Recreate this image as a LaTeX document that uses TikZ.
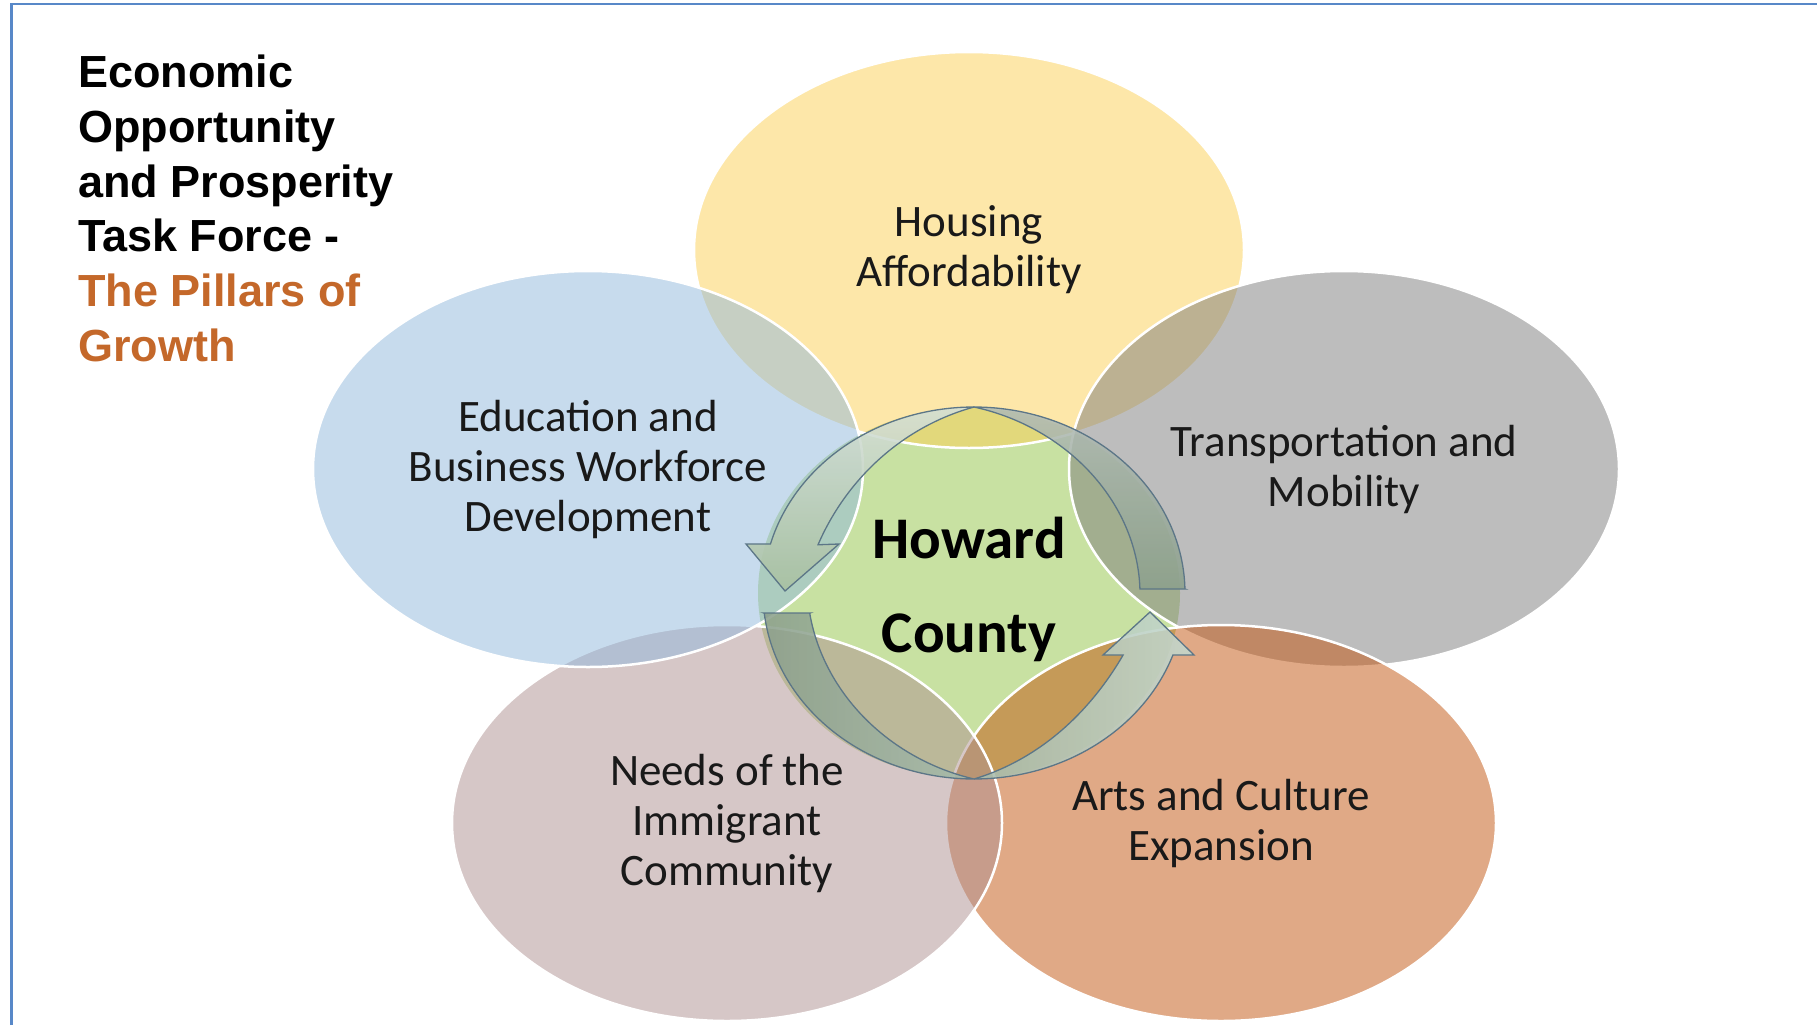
\documentclass[tikz,border=0pt]{standalone}
\usepackage{fontspec}
\setmainfont{Carlito}
\newfontfamily\titlefont{Liberation Sans}
\usetikzlibrary{shapes.geometric}

\definecolor{cYellow}{RGB}{253,209,85}
\definecolor{cBlue}{RGB}{145,185,221}
\definecolor{cGray}{RGB}{125,125,125}
\definecolor{cMauve}{RGB}{175,145,145}
\definecolor{cOrange}{RGB}{195,85,15}
\definecolor{cGreen}{RGB}{200,225,162}
\definecolor{cBorder}{RGB}{88,136,200}
\definecolor{cTitleOrange}{RGB}{196,104,42}
\definecolor{cArrowLine}{RGB}{92,118,135}
\definecolor{aLightTop}{RGB}{214,224,218}
\definecolor{aLightBot}{RGB}{168,192,160}
\definecolor{aDark}{RGB}{140,160,140}
\definecolor{aDarkTop}{RGB}{178,188,182}
\definecolor{aLightR}{RGB}{196,216,206}
\definecolor{cText}{RGB}{25,25,25}

\tikzset{
  pillar/.style={ellipse, minimum width=550pt, minimum height=396pt, inner sep=0pt,
    fill opacity=0.5, draw=white, line width=2.5pt, text=cText, text opacity=1,
    align=center, font=\fontsize{45}{50}\selectfont,
    execute at begin node={\rule{0pt}{43pt}}},
  hub/.style={ellipse, minimum width=422pt, minimum height=370pt, inner sep=0pt, fill=cGreen},
  arrowbody/.style={draw=cArrowLine, line width=1.3pt, fill opacity=0.88},
  titletext/.style={anchor=north west, align=left, inner sep=0pt,
    font=\titlefont\bfseries\fontsize{45}{54.7}\selectfont},
  hubtext/.style={align=center, inner sep=0pt, font=\bfseries\fontsize{59}{94}\selectfont}
}

\begin{document}
\begin{tikzpicture}[x=1pt, y=-1pt]
  \fill[white] (0,0) rectangle (1817,1025);
  \useasboundingbox (0,0) rectangle (1817,1025);

  % frame
  \draw[cBorder, line width=3pt] (11,1025) -- (11,4);
  \draw[cBorder, line width=2pt] (10,4) -- (1817,4);

  % title
  \node[titletext] (title) at (78,55) {Economic\\Opportunity\\and Prosperity\\Task Force -\\\textcolor{cTitleOrange}{The Pillars of}\\\textcolor{cTitleOrange}{Growth}};

  % central circle
  \node[hub] (hub) at (969,593) {};

  % pillars
  \node[pillar, fill=cYellow] (housing) at (969,250) {Housing\\Affordability};
  \node[pillar, fill=cGray] (transport) at (1344,469) {Transportation and\\Mobility};
  \node[pillar, fill=cOrange] (arts) at (1221,823) {Arts and Culture\\Expansion};
  \node[pillar, fill=cMauve] (needs) at (727,823) {Needs of the\\Immigrant\\Community};
  \node[pillar, fill=cBlue] (education) at (588,469) {Education and\\Business Workforce\\Development};

  % cycle arrows
  \path[arrowbody, top color=aLightTop, bottom color=aLightBot]
    (974,407)
    -- plot[domain=90:164.7, samples=60] ({974+211*cos(\x)},{593-186*sin(\x)})
    -- (746,544) -- (785,591) -- (839,544)
    -- plot[domain=160:90, samples=60] ({974+(211-45*sin(90*(\x-90)/70))*cos(\x)},{593-(186-45*sin(90*(\x-90)/70))*sin(\x)})
    -- cycle;

  \path[arrowbody, left color=aDark, right color=aLightR]
    (810,613) -- (764,613)
    -- plot[domain=186.2:340.5, samples=90] ({974+211*cos(\x)},{593-186*sin(\x)})
    -- (1194,655) -- (1150,612) -- (1103,655)
    -- plot[domain=333.9:270, samples=50] ({974+(211-45*sin(90*(\x-270)/63.9))*cos(\x)},{593-(186-45*sin(90*(\x-270)/63.9))*sin(\x)})
    -- plot[domain=270:188.2, samples=50] ({974+(211-45*sin(90*(270-\x)/81.8))*cos(\x)},{593-(186-45*sin(90*(270-\x)/81.8))*sin(\x)})
    -- cycle;

  \path[arrowbody, top color=aDarkTop, bottom color=aDark]
    (1140,589) -- (1185,589)
    -- plot[domain=1.24:90, samples=60] ({974+211*cos(\x)},{593-186*sin(\x)})
    -- plot[domain=90:1.63, samples=60] ({974+(211-45*sin(90*(90-\x)/88.37))*cos(\x)},{593-(186-45*sin(90*(90-\x)/88.37))*sin(\x)})
    -- cycle;

  % centre label
  \node[hubtext] (hc) at (969,589) {Howard\\County};
\end{tikzpicture}
\end{document}
